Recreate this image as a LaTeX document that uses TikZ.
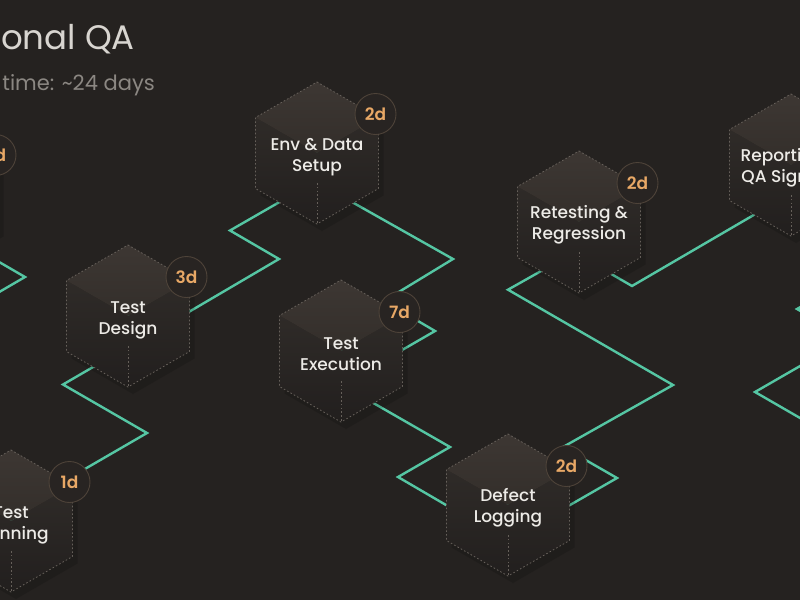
\documentclass[tikz,border=0pt]{standalone}
\usepackage{fontspec}
\setmainfont{Poppins}
\newfontfamily\qamedium{Poppins Medium}
\newfontfamily\qasemi{Poppins SemiBold}
\definecolor{qabg}{HTML}{252220}
\definecolor{qateal}{HTML}{55C6A3}
\definecolor{qaedge}{HTML}{66605A}
\definecolor{qatopA}{HTML}{3D3733}
\definecolor{qatopB}{HTML}{332E2A}
\definecolor{qasideA}{HTML}{2F2B28}
\definecolor{qasideB}{HTML}{221F1E}
\definecolor{qabadgefill}{HTML}{282422}
\definecolor{qabadgeline}{HTML}{4E4339}
\definecolor{qaorange}{HTML}{E8A866}
\definecolor{qatext}{HTML}{EDEBE7}
\definecolor{qatitle}{HTML}{D8D5D0}
\definecolor{qasub}{HTML}{8B8782}
\newcommand{\qacube}[1]{%
\begin{scope}[shift={(#1)}]
  \fill[black,opacity=0.14] (5,-64) -- (66.5,-28.5) -- (66.5,42.5) -- (5,78) -- (-56.5,42.5) -- (-56.5,-28.5) -- cycle;
  \shade[top color=qasideA,bottom color=qasideB] (-61.5,-35.5) -- (0,0) -- (0,71) -- (-61.5,35.5) -- cycle;
  \shade[top color=qasideA,bottom color=qasideB] (61.5,-35.5) -- (0,0) -- (0,71) -- (61.5,35.5) -- cycle;
  \shade[top color=qatopA,bottom color=qatopB] (0,-71) -- (61.5,-35.5) -- (0,0) -- (-61.5,-35.5) -- cycle;
  \draw[cubeedge] (0,-71) -- (61.5,-35.5) -- (61.5,35.5) -- (0,71) -- (-61.5,35.5) -- (-61.5,-35.5) -- cycle;
  \draw[cubeedge] (0,30) -- (0,71);
\end{scope}}
\begin{document}
\begin{tikzpicture}[x=1pt,y=-1pt,
  flowline/.style={draw=qateal,line width=2.4pt},
  cubeedge/.style={draw=qaedge,line width=0.8pt,dash pattern=on 1.6pt off 2.2pt},
  steptext/.style={text=qatext,align=center,font=\qamedium\fontsize{17}{21}\selectfont,inner sep=0pt},
  daybadge/.style={circle,minimum size=41pt,inner sep=0pt,fill=qabadgefill,draw=qabadgeline,line width=0.9pt,text=qaorange,font=\qasemi\fontsize{17}{17}\selectfont}]
\useasboundingbox (0,0) rectangle (800,600);
\clip (0,0) rectangle (800,600);
\fill[qabg] (0,0) rectangle (800,600);

% step centres
\coordinate (qa0) at (-63,194);
\coordinate (tp) at (11,521);
\coordinate (td) at (128,316);
\coordinate (env) at (317,153);
\coordinate (te) at (341,351);
\coordinate (dl) at (508,505);
\coordinate (rr) at (579,222);
\coordinate (rq) at (791,165);
\coordinate (qanext) at (900,493);

% connectors (behind the cubes)
\draw[flowline] (qa0) -- (-25,248) -- (25,277) -- (-30,309) -- (tp);
\draw[flowline] (tp) -- (40,495) -- (147,433) -- (63,384.5) -- (100,363) -- (td);
\draw[flowline] (td) -- (170,323) -- (279,259) -- (230,230.5) -- (290,196) -- (env);
\draw[flowline] (env) -- (340,195.3) -- (453,259) -- (384,301) -- (435,331) -- (390,357) -- (te);
\draw[flowline] (te) -- (355,392.5) -- (450,447) -- (398,477) -- (470,519) -- (dl);
\draw[flowline] (dl) -- (530,528) -- (617,478) -- (563,447) -- (673,385) -- (508,289.7) -- (550,266) -- (rr);
\draw[flowline] (rr) -- (595,264.6) -- (632,286) -- (752,216) -- (770,205.5) -- (rq);
\draw[flowline] (rq) -- (850,278.4) -- (797,309) -- (848,338.4) -- (755,392) -- (900,475.7) -- (qanext);

% cubes
\qacube{qa0}
\qacube{tp}
\qacube{td}
\qacube{env}
\qacube{te}
\qacube{dl}
\qacube{rr}
\qacube{rq}

% labels
\node[steptext] (tpl) at ([yshift=-4pt]tp) {Test\\Planning};
\node[steptext] (tdl) at ([yshift=-4pt]td) {Test\\Design};
\node[steptext] (envl) at ([yshift=-4pt]env) {Env \& Data\\Setup};
\node[steptext] (tel) at ([yshift=-3pt]te) {Test\\Execution};
\node[steptext] (dll) at ([yshift=-3pt]dl) {Defect\\Logging};
\node[steptext] (rrl) at ([yshift=-3pt]rr) {Retesting \&\\Regression};
\node[steptext] (rql) at ([yshift=-3pt]rq) {Reporting \&\\QA Sign-off};

% badges
\node[daybadge] (qa0b) at ([shift={(58.5,-39)}]qa0) {2d};
\node[daybadge] (tpb) at ([shift={(58.5,-39)}]tp) {1d};
\node[daybadge] (tdb) at ([shift={(58.5,-39)}]td) {3d};
\node[daybadge] (envb) at ([shift={(58.5,-39)}]env) {2d};
\node[daybadge] (teb) at ([shift={(58.5,-39)}]te) {7d};
\node[daybadge] (dlb) at ([shift={(58.5,-39)}]dl) {2d};
\node[daybadge] (rrb) at ([shift={(58.5,-39)}]rr) {2d};

% title
\node[anchor=base east,inner sep=0pt,text=qatitle,font=\fontsize{34}{34}\selectfont] (title) at (135,49) {Traditional QA};
\node[anchor=base east,inner sep=0pt,text=qasub,font=\fontsize{21}{21}\selectfont] (subtitle) at (155,90) {Total time: \textasciitilde24 days};
\end{tikzpicture}
\end{document}
